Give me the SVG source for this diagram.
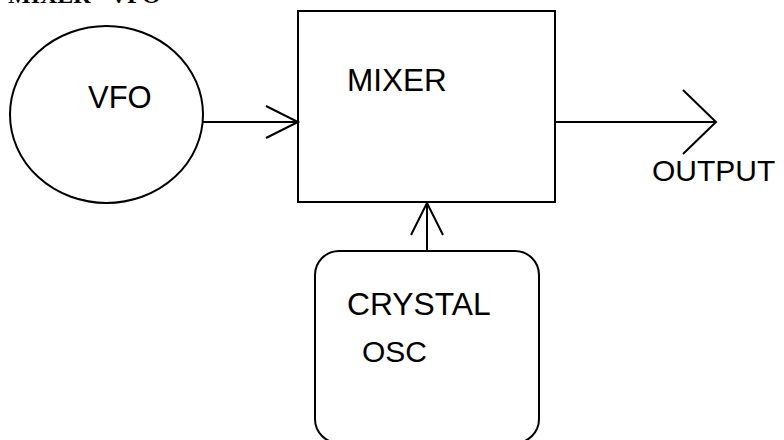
<svg xmlns="http://www.w3.org/2000/svg" width="784" height="440" viewBox="0 0 784 440">
<style>
.s{fill:none;stroke:#000;stroke-width:2}
.t{font-family:"Liberation Sans",Arial,sans-serif;font-size:30px;fill:#000}
.title{font-family:"Liberation Serif","Times New Roman",serif;font-size:24px;font-weight:bold;fill:#000}
</style>
<rect width="784" height="440" fill="#fff"/>
<text class="title" x="8" y="3">MIXER<tspan x="110">VFO</tspan></text>
<g id="vfo">
<ellipse class="s" cx="106.5" cy="114.5" rx="96.5" ry="88.5"/>
<text class="t" x="88" y="108" style="font-size:31px">VFO</text>
</g>
<g id="mixer">
<rect class="s" x="298" y="11" width="257" height="191"/>
<text class="t" x="347" y="91" style="font-size:31.5px">MIXER</text>
</g>
<g id="crystal">
<rect class="s" x="315" y="251" width="224" height="192" rx="24" ry="24"/>
<text class="t" x="347" y="315" style="font-size:31.8px">CRYSTAL</text>
<text class="t" x="362" y="362">OSC</text>
</g>
<g id="output">
<text class="t" x="652" y="181">OUTPUT</text>
</g>
<g id="connectors">
<line class="s" x1="203" y1="122" x2="298" y2="122"/>
<polyline class="s" points="266,106 298,122 266,138"/>
<line class="s" x1="555" y1="122" x2="716" y2="122"/>
<polyline class="s" points="683,90 716,122 683,154"/>
<line class="s" x1="427" y1="251" x2="427" y2="202"/>
<polyline class="s" points="411,235 427,203 443,235"/>
</g>
</svg>
